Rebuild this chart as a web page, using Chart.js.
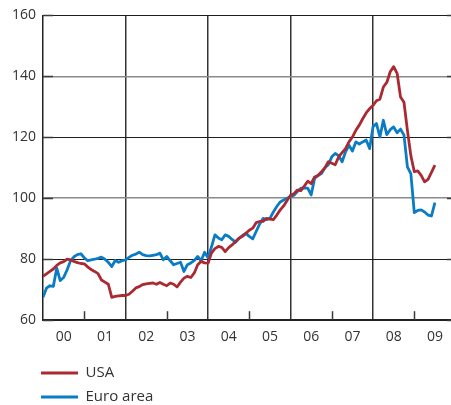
<!DOCTYPE html>
<html><head><meta charset="utf-8">
<script src="https://cdn.jsdelivr.net/npm/chart.js@4.4.1/dist/chart.umd.min.js"></script>
<style>html,body{margin:0;padding:0;background:#fff}canvas{display:block}</style>
</head><body>
<canvas id="c" width="451" height="405"></canvas>
<script>
// ---- data (monthly, starting Jan 2000) ----
const startYear = 2000;
const yearLabels = ['00','01','02','03','04','05','06','07','08','09'];
const yTicks = [60, 80, 100, 120, 140, 160];
const seriesNames = ['USA', 'Euro area'];
const usa = [
  74.4,75.2,76.0,76.8,78.0,78.8,79.2,80.0,79.8,79.3,78.9,78.6,
  78.5,77.5,76.6,76.0,75.3,73.2,72.5,71.8,67.5,67.8,68.0,68.1,
  68.1,68.5,69.5,70.6,71.0,71.7,71.9,72.1,72.2,71.8,72.4,71.8,
  71.3,72.2,71.8,70.9,72.5,73.8,74.4,74.0,75.5,78.2,79.3,78.8,
  78.7,82.0,83.5,84.2,83.9,82.5,83.8,84.7,85.8,86.9,87.5,88.5,
  89.5,90.2,92.0,92.4,92.4,93.4,93.2,93.0,94.5,96.2,97.5,99.3,
  101.0,101.5,102.7,102.5,104.0,105.6,104.8,107.0,107.5,108.7,110.0,112.0,
  111.5,111.0,113.6,115.0,116.3,118.5,120.1,122.3,124.0,126.1,128.0,129.4,
  130.5,132.0,132.5,136.5,138.0,141.5,143.2,141.0,133.2,131.5,122.3,114.0,
  108.7,109.0,107.5,105.4,106.2,108.5,110.9
];
const euroArea = [
  67.5,70.5,71.3,71.1,77.1,73.0,74.0,76.5,79.5,80.8,81.5,81.8,
  80.5,79.5,79.8,80.0,80.3,80.7,80.0,79.0,77.6,79.6,79.0,79.5,
  79.8,80.6,81.3,81.7,82.3,81.5,81.2,81.1,81.3,81.5,82.0,79.8,
  80.9,79.5,78.2,78.6,79.0,76.0,78.2,78.8,79.6,80.9,79.5,82.3,
  80.5,84.0,88.0,87.0,86.4,88.0,87.5,86.5,85.6,86.8,87.8,88.5,
  87.5,86.7,89.1,91.5,93.4,93.0,93.4,95.5,97.3,98.8,99.4,100.0,
  100.5,101.0,102.2,103.3,103.3,103.3,101.1,106.5,107.5,108.1,110.0,111.0,
  113.6,114.7,114.0,112.0,115.2,117.4,115.5,118.5,117.8,118.5,119.1,116.3,
  123.5,124.5,120.1,125.6,120.9,122.5,123.4,121.5,122.7,120.7,110.3,108.1,
  95.3,96.0,96.2,95.5,94.5,94.2,98.6
];

const toPoints = arr => arr.map((v, i) => ({ x: startYear + i / 12, y: v }));
const textColor = '#333333';
const fontFamily = '"Open Sans", "DejaVu Sans", sans-serif';

// x ticks: year boundaries (grid) and mid-years (labels)
const xTickValues = [];
yearLabels.forEach((_, k) => { xTickValues.push(startYear + k); xTickValues.push(startYear + k + 0.5); });

const innerTicks = {
  id: 'innerTicks',
  beforeDatasetsDraw(chart) {
    const { ctx, chartArea: a, scales: { x, y } } = chart;
    ctx.save();
    ctx.strokeStyle = '#3a3a3a';
    ctx.lineWidth = 1.5;
    yTicks.forEach(v => {
      const py = Math.round(y.getPixelForValue(v)) + 0.5;
      ctx.beginPath(); ctx.moveTo(a.left, py); ctx.lineTo(a.left + 10, py); ctx.stroke();
      ctx.beginPath(); ctx.moveTo(a.right - 4, py); ctx.lineTo(a.right, py); ctx.stroke();
    });
    yearLabels.forEach((_, k) => {
      const yr = startYear + k;
      if (k % 2 === 1) {
        const px = Math.round(x.getPixelForValue(yr)) + 0.5;
        ctx.beginPath(); ctx.moveTo(px, a.bottom); ctx.lineTo(px, a.bottom - 9); ctx.stroke();
      }
    });
    ctx.restore();
  }
};

const legendPlace = {
  id: 'legendPlace',
  afterLayout(chart) {
    const l = chart.legend;
    if (!l) return;
    const w = l.width, h = l.height;
    l.left = 32; l.right = 32 + w;
    l.top = 356.5; l.bottom = 356.5 + h;
  }
};

new Chart(document.getElementById('c'), {
  type: 'line',
  data: {
    datasets: [
      { label: seriesNames[0], data: toPoints(usa), borderColor: '#ab2a31', backgroundColor: '#ab2a31',
        borderWidth: 2.8, pointRadius: 0, tension: 0, borderJoinStyle: 'round' },
      { label: seriesNames[1], data: toPoints(euroArea), borderColor: '#0a7cc6', backgroundColor: '#0a7cc6',
        borderWidth: 2.8, pointRadius: 0, tension: 0, borderJoinStyle: 'round' }
    ]
  },
  options: {
    responsive: false,
    animation: false,
    devicePixelRatio: 1,
    layout: { padding: { top: 13, left: 5, right: 0, bottom: 52 } },
    plugins: {
      tooltip: { enabled: false },
      legend: {
        position: 'chartArea',
        align: 'start',
        labels: {
          boxWidth: 37, boxHeight: 3, padding: 9,
          color: textColor,
          font: { family: fontFamily, size: 15 },
          generateLabels(chart) {
            return Chart.defaults.plugins.legend.labels.generateLabels(chart).map(it => ({ ...it, lineWidth: 0 }));
          }
        }
      }
    },
    scales: {
      x: {
        type: 'linear',
        min: 2000, max: 2009.89,
        afterBuildTicks(axis) { axis.ticks = xTickValues.map(v => ({ value: v })); },
        ticks: {
          autoSkip: false, maxRotation: 0, padding: 8,
          color: textColor, font: { family: fontFamily, size: 14 },
          callback(v) {
            const k = v - startYear;
            return (k % 1 !== 0) ? yearLabels[Math.floor(k)] : '';
          }
        },
        grid: {
          drawTicks: false,
          color(ctx) {
            const v = ctx.tick && ctx.tick.value;
            if (v === undefined) return 'rgba(0,0,0,0)';
            const k = v - startYear;
            return (k % 1 === 0 && k > 0 && k % 2 === 0) ? '#333333' : 'rgba(0,0,0,0)';
          },
          lineWidth: 1.5
        },
        border: { color: '#222222', width: 1.5 }
      },
      y: {
        min: 60, max: 160,
        afterBuildTicks(axis) { axis.ticks = yTicks.map(v => ({ value: v })); },
        ticks: { padding: 7, color: textColor, font: { family: fontFamily, size: 14 } },
        grid: {
          drawTicks: false,
          color(ctx) {
            const v = ctx.tick && ctx.tick.value;
            return (v === 100 || v === 140) ? '#8a8a8a' : '#1e1e1e';
          },
          lineWidth(ctx) {
            const v = ctx.tick && ctx.tick.value;
            return (v === 100 || v === 140) ? 1.6 : 1;
          }
        },
        border: { color: '#222222', width: 1.5 }
      }
    }
  },
  plugins: [innerTicks, legendPlace]
});
</script>
</body></html>
